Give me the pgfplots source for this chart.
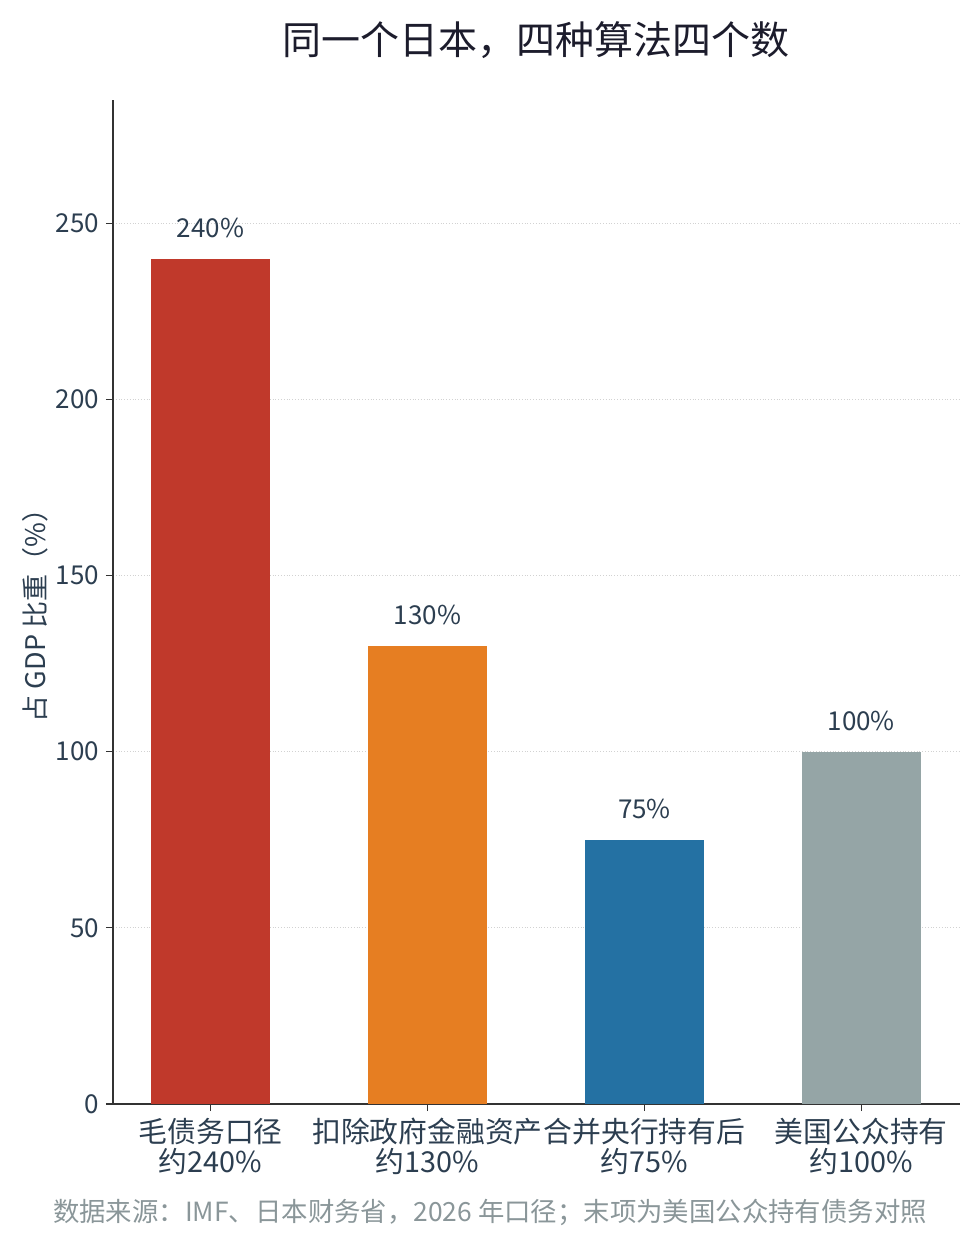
\documentclass[border=0pt]{standalone}
\usepackage{fontspec}
\setmainfont{Noto Sans CJK SC}
\usepackage{pgfplots}
\pgfplotsset{compat=1.18}
\definecolor{cred}{HTML}{C0392B}
\definecolor{corange}{HTML}{E67E22}
\definecolor{cblue}{HTML}{2471A3}
\definecolor{cgray}{HTML}{95A5A6}
\definecolor{ctext}{HTML}{2C3E50}
\definecolor{ctitle}{HTML}{1C1C2C}
\definecolor{cfoot}{HTML}{8A9699}
\definecolor{caxis}{HTML}{333333}
\begin{document}
\begin{tikzpicture}
\useasboundingbox (0,0) rectangle (490pt,630pt);
\begin{axis}[
  at={(56.5pt,78pt)}, anchor=south west,
  width=423.5pt, height=502pt, scale only axis,
  ymin=0, ymax=285, xmin=-0.45, xmax=3.455,
  ybar, bar width=0.55,
  axis x line*=bottom, axis y line*=left,
  axis line style={caxis, line width=0.8pt},
  xtick={0,1,2,3},
  xticklabels={{毛债务口径\\约240\%},{扣除政府金融资产\\约130\%},{合并央行持有后\\约75\%},{美国公众持有\\约100\%}},
  xticklabel style={align=center, font=\fontsize{14.4pt}{15pt}\selectfont, text=ctext},
  ytick={0,50,100,150,200,250},
  yticklabel style={font=\fontsize{13pt}{15pt}\selectfont, text=ctext},
  /pgf/number format/assume math mode=true,
  tick style={caxis, line width=0.6pt},
  tick align=outside, major tick length=3.5pt,
  ymajorgrids, major grid style={densely dotted, gray!35, line width=0.5pt},
  nodes near coords={\pgfmathprintnumber{\pgfplotspointmeta}\%},
  nodes near coords style={font=\fontsize{13pt}{15pt}\selectfont, text=ctext, anchor=south, yshift=7pt},
  clip=false,
]
\addplot[draw=none, fill=cred, bar shift=0] coordinates {(0,240)};
\addplot[draw=none, fill=corange, bar shift=0] coordinates {(1,130)};
\addplot[draw=none, fill=cblue, bar shift=0] coordinates {(2,75)};
\addplot[draw=none, fill=cgray, bar shift=0] coordinates {(3,100)};
\end{axis}
\node[font=\fontsize{19.5pt}{22pt}\selectfont, text=ctitle] at (268pt,610pt) {同一个日本，四种算法四个数};
\node[font=\fontsize{13.2pt}{14pt}\selectfont, text=cfoot] at (245pt,24pt) {数据来源：IMF、日本财务省，2026 年口径；末项为美国公众持有债务对照};
\node[rotate=90, font=\fontsize{13.5pt}{15pt}\selectfont, text=ctext] at (17.5pt,325.5pt) {占 GDP 比重（\%）};
\end{tikzpicture}
\end{document}
